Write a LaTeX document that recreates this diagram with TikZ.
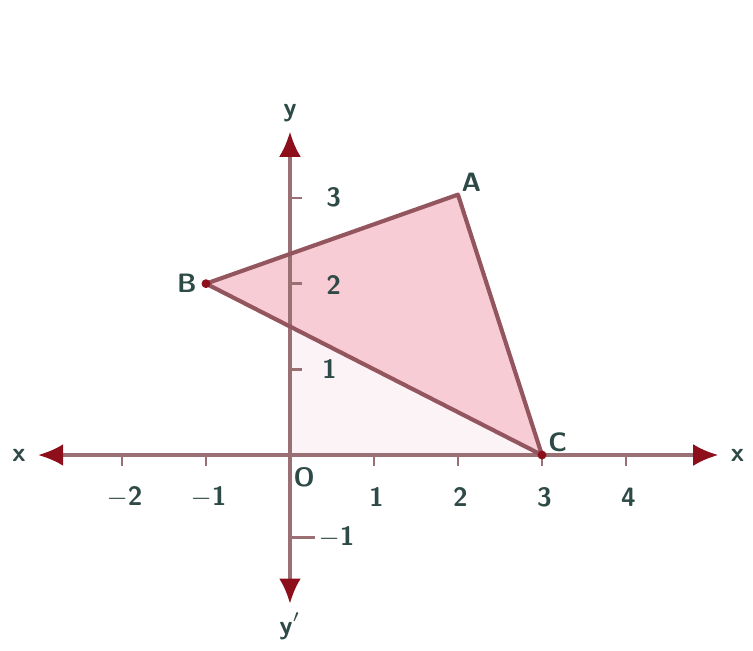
\documentclass[tikz,border=0pt]{standalone}
\usepackage{tikz}
\usetikzlibrary{arrows.meta, positioning, calc}

\definecolor{axiscol}{HTML}{9A7075}
\definecolor{tipcol}{HTML}{8E0F1C}
\definecolor{edgecol}{HTML}{93565E}
\definecolor{fillcol}{HTML}{F8CCD4}
\definecolor{palecol}{HTML}{FBF3F5}
\definecolor{labcol}{HTML}{2E4A46}

\begin{document}
\begin{tikzpicture}[
    axis/.style={{Latex[length=3mm,width=2.6mm,color=tipcol]}-{Latex[length=3mm,width=2.6mm,color=tipcol]}, draw=axiscol, line width=1.1pt},
    edge/.style={draw=edgecol, line width=1.4pt, line join=round},
    tick/.style={draw=axiscol, line width=0.9pt},
    lab/.style={text=labcol, font=\sffamily\bfseries\small, inner sep=1pt},
    dot/.style={circle, fill=tipcol, inner sep=0pt, minimum size=3pt}
]
\useasboundingbox (-3.452,-2.333) rectangle (5.512,5.417);

% points
\coordinate (O) at (0,0);
\coordinate (A) at (2,3.1);
\coordinate (B) at (-1,2.04);
\coordinate (C) at (3,0);
\coordinate (D) at (0,1.5);

% shading
\fill[palecol] (O) -- (D) -- (C) -- cycle;
\fill[fillcol] (A) -- (B) -- (C) -- cycle;

% axes
\coordinate (xl) at (-3.0,0);
\coordinate (xr) at (5.1,0);
\coordinate (yt) at (0,3.85);
\coordinate (yb) at (0,-1.77);
\draw[axis] (xl) -- (xr);
\draw[axis] (yb) -- (yt);

\node[lab, left=3pt of xl] (xlab) {x};
\node[lab, right=3pt of xr] (xrlab) {x};
\node[lab, above=2pt of yt] (ytlab) {y};
\node[lab, below=2pt of yb] (yblab) {y$'$};

% ticks on x
\foreach \i/\t in {-2/$-$2,-1/$-$1,1/1,2/2,3/3,4/4} {
  \draw[tick] (\i,0) -- (\i,-0.13);
  \node[lab] (tx\i) at (\i+0.03,-0.5) {\t};
}
\node[lab] (olab) at (0.17,-0.27) {O};

% ticks on y
\foreach \j/\t in {1/1,2/2,3/3} {
  \draw[tick] (0,\j*1.02) -- (0.14,\j*1.02);
}
\node[lab] (ty1) at (0.47,1.03) {1};
\node[lab] (ty2) at (0.52,2.02) {2};
\node[lab] (ty3) at (0.52,3.07) {3};
\draw[tick] (0,-0.98) -- (0.3,-0.98);
\node[lab, anchor=west] (tym1) at (0.3,-0.98) {$-$1};

% triangle
\draw[edge] (A) -- (B) -- (C) -- cycle;
\node[dot] at (B) {};
\node[dot] at (C) {};

\node[lab, above right=0pt and 0pt of A] (alab) {A};
\node[lab, left=2pt of B] (blab) {B};
\node[lab, above right=0pt and 1pt of C] (clab) {C};

\end{tikzpicture}
\end{document}
